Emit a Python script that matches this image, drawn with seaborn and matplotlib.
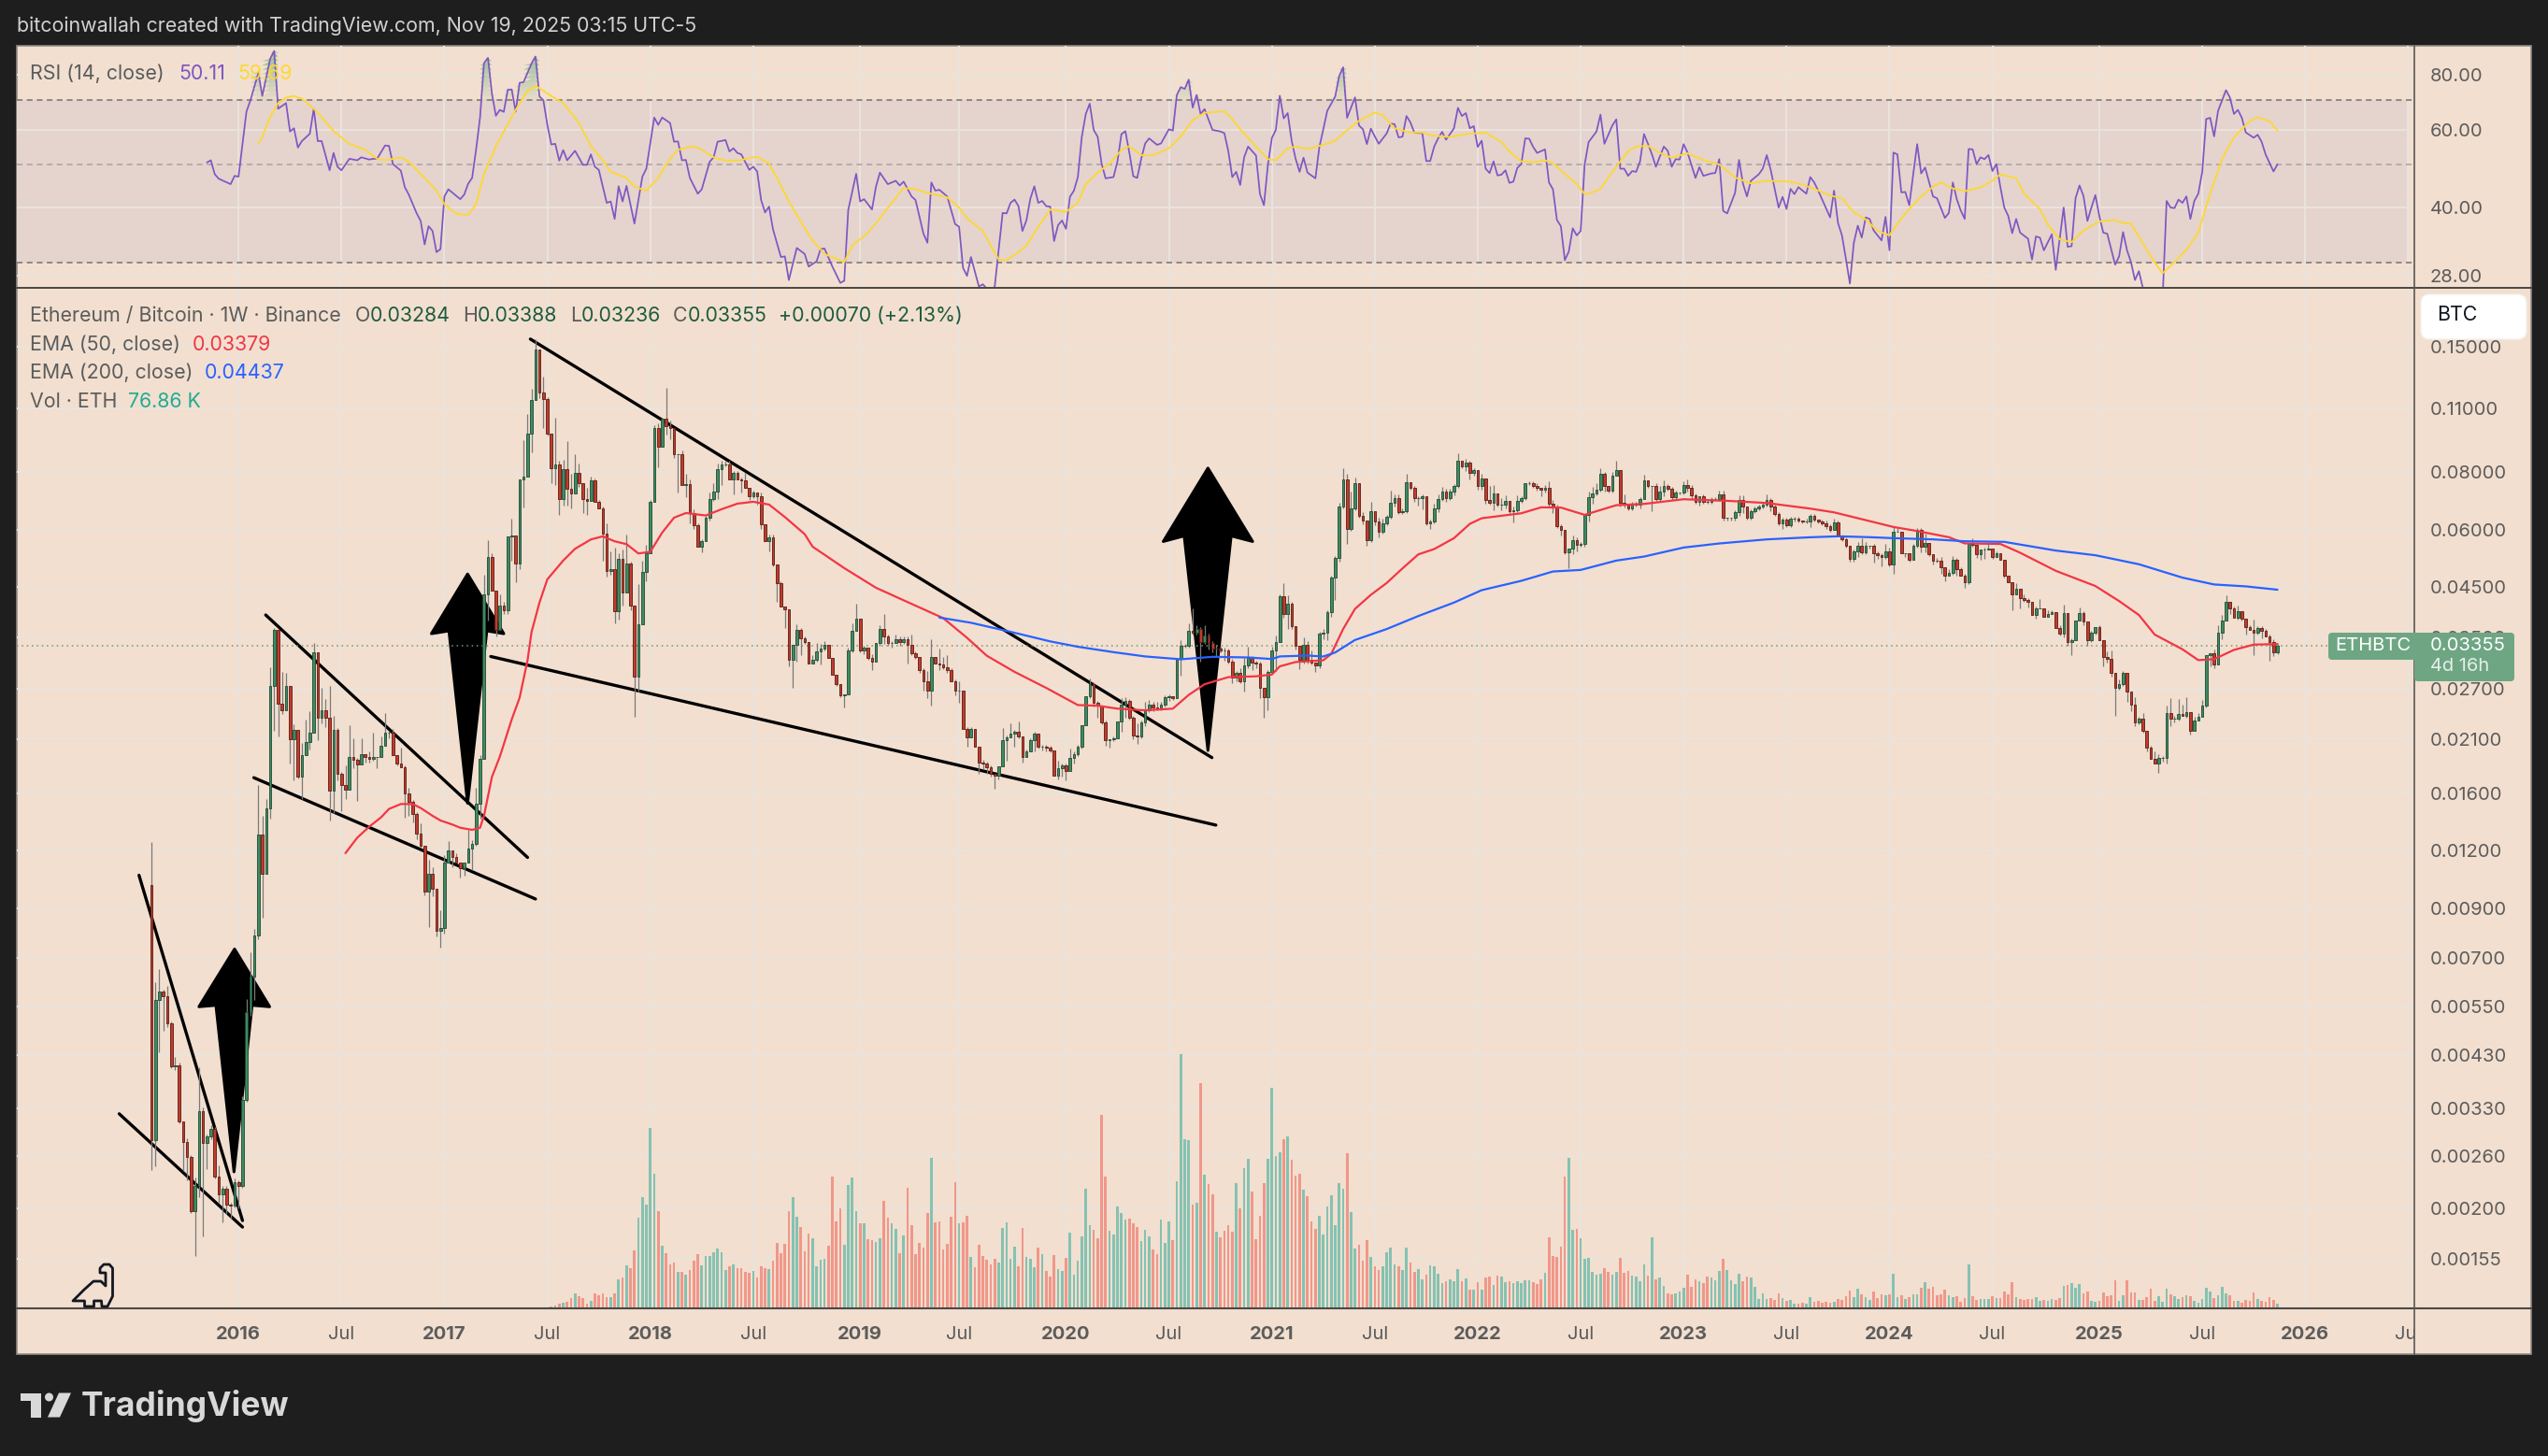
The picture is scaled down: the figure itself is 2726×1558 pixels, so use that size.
import matplotlib
matplotlib.use('Agg')
import matplotlib.dates as mdates
import matplotlib.pyplot as plt
import numpy as np
import pandas as pd
import seaborn as sns
from matplotlib.patches import FancyBboxPatch, Polygon, Circle
from matplotlib.ticker import FixedLocator, FixedFormatter, NullLocator
from matplotlib.transforms import Bbox, TransformedBbox

WIDTH, HEIGHT = 2726, 1558
FIRST_WEEK = '2015-08-03'

# weekly closes in 1e-5 BTC, one row = 10 weeks
first_open = 1010
closes = [
    281, 569, 593, 580, 505, 408, 410, 309, 279, 258,
    197, 224, 325, 278, 286, 297, 234, 214, 221, 204,
    203, 228, 224, 344, 534, 637, 786, 1300, 1070, 1480,
    2740, 3630, 2510, 2430, 2740, 2100, 2200, 1740, 1940, 2070,
    2170, 3240, 2340, 2420, 2340, 1620, 2200, 1760, 1670, 1630,
    1920, 1890, 1850, 1950, 1920, 1900, 1920, 1920, 2030, 2170,
    2170, 1940, 1860, 1820, 1600, 1530, 1440, 1310, 1230, 980,
    1070, 992, 804, 816, 1130, 1200, 1160, 1130, 1100, 1130,
    1210, 1240, 1520, 1900, 4340, 5230, 4420, 3620, 4090, 4000,
    5790, 5820, 5060, 7700, 7820, 9710, 11480, 14800, 11940, 11550,
    9700, 8170, 8320, 6980, 8110, 7360, 7190, 7970, 7560, 6980,
    6920, 7670, 6900, 6670, 5890, 4870, 4930, 3980, 5180, 4380,
    5050, 4090, 2870, 3740, 4850, 5330, 6900, 10000, 9080, 10450,
    10060, 10000, 8750, 8750, 7490, 7550, 6510, 6140, 5510, 5650,
    6350, 7000, 7270, 8100, 8300, 8300, 7720, 7970, 7720, 7670,
    7390, 7090, 7220, 7080, 6150, 5650, 5780, 5030, 4590, 4070,
    4030, 3120, 3370, 3620, 3480, 3410, 3060, 3130, 3260, 3310,
    3360, 3150, 2900, 2770, 2610, 2630, 3280, 3610, 3830, 3280,
    3320, 3150, 3090, 3390, 3640, 3510, 3390, 3400, 3470, 3410,
    3470, 3370, 3230, 3170, 2960, 2810, 2680, 3170, 3060, 3050,
    3010, 2960, 2800, 2670, 2670, 2210, 2120, 2210, 2020, 1870,
    1860, 1820, 1760, 1750, 1830, 2090, 2120, 2160, 2180, 2130,
    1920, 1970, 2090, 2160, 2020, 2020, 2010, 1980, 1750, 1810,
    1840, 1790, 1910, 1950, 2020, 2250, 2600, 2760, 2520, 2480,
    2280, 2090, 2100, 2110, 2290, 2500, 2540, 2340, 2140, 2130,
    2280, 2430, 2500, 2460, 2450, 2500, 2590, 2600, 2580, 3140,
    3350, 3350, 3610, 3580, 3640, 3410, 3530, 3390, 3300, 3300,
    3280, 3270, 3100, 2860, 2930, 2800, 3030, 3150, 3080, 3060,
    2710, 2590, 2940, 3270, 3420, 4290, 3930, 4140, 3690, 3350,
    3130, 3360, 3120, 3080, 3030, 3560, 3580, 3960, 4720, 5210,
    6730, 7700, 6020, 6670, 7560, 6420, 6270, 5700, 6570, 6240,
    5940, 6200, 6400, 6870, 7020, 6540, 6590, 7610, 7390, 7020,
    7020, 7100, 6190, 6240, 6680, 7000, 7270, 7020, 7270, 7460,
    8460, 8220, 8370, 7950, 8070, 7480, 7760, 6970, 6870, 7200,
    6790, 6810, 6930, 6590, 6610, 6930, 7020, 7560, 7560, 7480,
    7380, 7310, 7410, 6820, 6720, 6110, 6000, 5350, 5460, 5700,
    5550, 5570, 6440, 7040, 7200, 7340, 7930, 7480, 7290, 7840,
    8070, 6870, 6820, 6670, 6810, 6810, 6980, 7680, 7480, 7480,
    6980, 7240, 7460, 7350, 7040, 7230, 7230, 7500, 7410, 7120,
    6900, 7100, 6900, 6880, 6980, 7000, 7140, 6350, 6350, 6350,
    6540, 6970, 6720, 6360, 6570, 6670, 6730, 6810, 6950, 6720,
    6480, 6190, 6300, 6130, 6320, 6320, 6280, 6250, 6260, 6410,
    6310, 6240, 6200, 6090, 5980, 6220, 5810, 5710, 5530, 5170,
    5380, 5520, 5350, 5520, 5520, 5330, 5280, 5230, 5370, 5040,
    5920, 5920, 5330, 5330, 5160, 5530, 5980, 5500, 5610, 5310,
    5140, 5130, 4960, 4760, 4820, 5160, 4910, 4750, 4610, 5580,
    5550, 5310, 5430, 5430, 5450, 5220, 5320, 5160, 4770, 4600,
    4330, 4460, 4250, 4210, 4180, 3910, 4040, 4040, 3870, 3920,
    3970, 3670, 3560, 3950, 3420, 3440, 3800, 3950, 3790, 3450,
    3580, 3680, 3450, 3170, 3140, 2930, 2710, 2770, 2930, 2660,
    2490, 2280, 2320, 2190, 2010, 1900, 1860, 1910, 1910, 2390,
    2330, 2330, 2380, 2360, 2400, 2190, 2300, 2350, 2480, 3200,
    3230, 3050, 3570, 3800, 4180, 4040, 3850, 3980, 3840, 3680,
    3630, 3580, 3660, 3610, 3510, 3420, 3250, 3355,
]

# wick length above / below the body, in percent
wick_up = [
    24, 9, 12, 1, 5, 1, 4, 1, 0, 2,
    1, 4, 25, 2, 1, 2, 1, 6, 1, 1,
    1, 2, 1, 2, 7, 13, 3, 28, 10, 5,
    10, 1, 0, 17, 7, 0, 3, 0, 6, 12,
    11, 5, 0, 12, 6, 17, 7, 1, 1, 10,
    17, 10, 1, 8, 0, 3, 13, 0, 5, 10,
    1, 2, 0, 8, 1, 3, 1, 1, 5, 0,
    7, 3, 0, 9, 4, 5, 0, 2, 0, 0,
    10, 2, 8, 2, 10, 9, 2, 0, 6, 2,
    0, 9, 0, 0, 20, 10, 6, 5, 0, 8,
    1, 0, 26, 2, 5, 15, 8, 10, 5, 0,
    6, 2, 1, 1, 1, 5, 9, 11, 3, 5,
    16, 1, 0, 22, 6, 4, 1, 1, 2, 0,
    17, 3, 0, 0, 2, 5, 2, 2, 1, 1,
    1, 3, 4, 3, 2, 2, 2, 1, 1, 1,
    4, 0, 1, 0, 2, 0, 1, 1, 0, 1,
    0, 0, 0, 3, 1, 1, 0, 2, 4, 2,
    2, 0, 0, 0, 0, 0, 1, 4, 8, 0,
    1, 0, 2, 0, 2, 8, 1, 1, 2, 1,
    1, 1, 5, 1, 0, 1, 5, 9, 0, 8,
    4, 6, 1, 1, 5, 0, 1, 1, 0, 0,
    1, 1, 1, 0, 0, 6, 1, 5, 1, 5,
    0, 1, 1, 1, 0, 1, 1, 1, 0, 4,
    1, 1, 5, 1, 1, 0, 0, 3, 1, 1,
    0, 1, 0, 1, 0, 3, 2, 1, 1, 6,
    1, 4, 2, 1, 3, 1, 1, 1, 0, 0,
    3, 1, 4, 12, 2, 1, 5, 1, 1, 2,
    1, 1, 1, 1, 1, 2, 4, 6, 1, 1,
    1, 0, 1, 2, 3, 1, 7, 4, 1, 0,
    0, 4, 2, 5, 0, 1, 2, 1, 1, 1,
    2, 6, 3, 9, 3, 0, 2, 0, 5, 0,
    2, 2, 1, 6, 2, 2, 1, 4, 0, 1,
    1, 1, 0, 1, 2, 2, 2, 1, 1, 1,
    4, 0, 2, 1, 1, 0, 2, 0, 7, 4,
    0, 3, 3, 0, 2, 3, 1, 0, 1, 1,
    1, 0, 1, 3, 2, 1, 1, 0, 0, 2,
    1, 1, 0, 3, 3, 3, 3, 1, 0, 2,
    5, 0, 4, 0, 1, 1, 1, 3, 0, 0,
    1, 3, 3, 1, 1, 1, 0, 2, 3, 1,
    1, 0, 1, 1, 1, 1, 2, 2, 0, 0,
    1, 2, 2, 0, 1, 1, 1, 1, 3, 1,
    1, 1, 1, 1, 1, 1, 1, 0, 1, 1,
    1, 0, 1, 1, 1, 2, 1, 0, 1, 0,
    1, 2, 4, 2, 0, 1, 1, 1, 4, 2,
    3, 2, 0, 0, 0, 1, 1, 1, 5, 0,
    0, 1, 2, 0, 2, 2, 1, 1, 1, 0,
    3, 0, 0, 1, 3, 0, 1, 0, 0, 0,
    0, 3, 0, 2, 1, 0, 1, 5, 0, 2,
    1, 0, 1, 4, 0, 1, 0, 3, 1, 0,
    1, 0, 1, 0, 3, 4, 0, 2, 1, 0,
    0, 4, 1, 3, 0, 1, 4, 2, 1, 4,
    8, 1, 8, 5, 8, 0, 2, 2, 3, 0,
    0, 2, 4, 3, 3, 0, 1, 3, 0, 0,
    1, 5, 1, 1, 1, 1, 1, 1,
]
wick_down = [
    16, 14, 30, 19, 2, 1, 2, 1, 16, 12,
    1, 25, 6, 60, 14, 1, 1, 4, 15, 5,
    7, 1, 12, 1, 1, 2, 12, 2, 25, 0,
    5, 25, 18, 2, 0, 13, 23, 1, 12, 0,
    4, 0, 12, 3, 5, 16, 12, 3, 14, 5,
    0, 4, 20, 0, 3, 2, 1, 6, 0, 0,
    3, 0, 1, 0, 13, 7, 4, 3, 1, 2,
    20, 4, 3, 9, 3, 0, 5, 0, 5, 4,
    0, 11, 1, 8, 0, 14, 0, 3, 0, 2,
    2, 13, 10, 3, 15, 0, 10, 0, 3, 16,
    1, 8, 9, 8, 3, 9, 8, 0, 2, 7,
    7, 0, 0, 0, 15, 3, 2, 6, 4, 7,
    0, 2, 22, 8, 0, 5, 0, 0, 11, 0,
    4, 6, 2, 21, 0, 6, 5, 2, 0, 3,
    0, 1, 1, 4, 8, 1, 0, 8, 0, 6,
    0, 2, 1, 4, 2, 0, 5, 1, 10, 0,
    10, 3, 15, 9, 9, 1, 0, 0, 1, 7,
    1, 0, 0, 1, 1, 6, 0, 1, 0, 1,
    2, 1, 4, 0, 1, 4, 1, 2, 0, 2,
    1, 10, 1, 1, 1, 5, 4, 8, 0, 3,
    1, 1, 0, 2, 6, 0, 5, 0, 0, 6,
    3, 3, 1, 7, 2, 0, 11, 0, 7, 1,
    3, 0, 0, 6, 1, 2, 2, 1, 0, 2,
    4, 5, 0, 3, 1, 1, 0, 1, 2, 6,
    1, 3, 4, 1, 0, 5, 7, 1, 2, 4,
    1, 2, 1, 2, 1, 1, 1, 2, 1, 0,
    9, 1, 1, 1, 1, 10, 1, 3, 2, 4,
    1, 5, 1, 3, 2, 1, 5, 1, 4, 2,
    5, 11, 7, 1, 11, 0, 2, 8, 1, 2,
    5, 2, 2, 1, 3, 1, 3, 4, 2, 12,
    2, 1, 8, 1, 1, 1, 2, 3, 1, 2,
    3, 1, 1, 1, 2, 1, 1, 1, 1, 2,
    4, 6, 1, 3, 1, 2, 1, 2, 1, 2,
    1, 1, 2, 3, 1, 2, 2, 2, 1, 4,
    1, 3, 2, 1, 6, 1, 1, 1, 1, 1,
    1, 3, 1, 2, 3, 1, 3, 1, 8, 3,
    3, 1, 1, 3, 3, 1, 1, 3, 1, 1,
    0, 2, 2, 1, 1, 1, 2, 0, 1, 14,
    1, 1, 2, 1, 1, 1, 1, 1, 2, 2,
    1, 2, 1, 1, 1, 1, 1, 1, 1, 1,
    1, 2, 3, 1, 1, 1, 1, 1, 1, 2,
    1, 1, 3, 1, 1, 1, 1, 1, 1, 3,
    1, 1, 1, 1, 1, 0, 0, 1, 1, 1,
    1, 3, 1, 1, 1, 5, 2, 5, 1, 1,
    5, 0, 0, 2, 1, 0, 1, 3, 3, 1,
    2, 1, 3, 3, 0, 1, 3, 0, 3, 1,
    1, 2, 3, 5, 0, 1, 0, 0, 1, 0,
    8, 0, 5, 1, 3, 0, 2, 0, 0, 0,
    0, 0, 1, 2, 2, 7, 0, 0, 2, 3,
    1, 1, 0, 5, 2, 2, 15, 1, 1, 5,
    3, 2, 1, 1, 2, 0, 0, 5, 2, 3,
    4, 2, 1, 0, 1, 2, 0, 0, 0, 1,
    6, 2, 0, 3, 0, 3, 0, 1, 1, 4,
    0, 12, 1, 4, 0, 10, 2, 1,
]

# weekly volume in thousand ETH
volume_k = [
    12, 12, 12, 12, 12, 12, 12, 12, 12, 12,
    12, 12, 12, 12, 12, 12, 12, 12, 12, 12,
    12, 12, 12, 12, 12, 12, 12, 12, 12, 12,
    12, 12, 12, 12, 12, 12, 12, 12, 12, 12,
    12, 12, 12, 12, 12, 12, 12, 12, 12, 12,
    12, 12, 12, 12, 12, 12, 12, 12, 12, 12,
    12, 12, 12, 12, 12, 12, 12, 12, 12, 12,
    12, 12, 12, 12, 12, 12, 12, 12, 12, 12,
    12, 12, 12, 12, 12, 12, 12, 12, 12, 12,
    12, 12, 12, 12, 12, 12, 12, 12, 12, 15,
    15, 30, 50, 80, 90, 110, 160, 245, 200, 170,
    70, 125, 245, 215, 245, 185, 185, 245, 460, 490,
    695, 650, 935, 1460, 1790, 1670, 2900, 2165, 1565, 1010,
    890, 710, 740, 590, 590, 545, 620, 770, 875, 695,
    845, 845, 905, 965, 905, 620, 680, 710, 650, 650,
    590, 575, 605, 500, 680, 650, 635, 770, 1055, 890,
    1040, 1565, 1790, 1475, 1310, 920, 1205, 1130, 680, 785,
    800, 1010, 2120, 1400, 1610, 1025, 1985, 2105, 1565, 1370,
    1370, 1115, 1100, 1070, 1130, 1730, 1460, 1370, 1280, 890,
    1175, 1940, 1340, 875, 1055, 980, 1535, 2420, 1385, 1400,
    950, 1040, 1475, 2030, 1370, 1385, 1490, 830, 665, 1025,
    845, 785, 710, 800, 740, 1295, 1385, 800, 995, 680,
    1295, 830, 800, 665, 980, 875, 605, 515, 860, 635,
    605, 815, 1220, 545, 770, 1160, 1925, 1340, 1265, 1130,
    3110, 2120, 1250, 1190, 1640, 1535, 1430, 1445, 1370, 1310,
    1085, 1265, 1160, 950, 875, 1430, 1055, 1400, 1100, 2045,
    4085, 2720, 2705, 1670, 1700, 3620, 2150, 2000, 1835, 1235,
    1145, 1250, 1340, 1235, 2015, 1610, 2255, 2405, 1880, 1115,
    1490, 2015, 2405, 3545, 2450, 2510, 2720, 2765, 2390, 2135,
    2165, 1910, 1805, 1400, 1280, 1490, 1190, 1640, 1820, 1340,
    2015, 1925, 2495, 1550, 965, 1025, 770, 1100, 830, 680,
    620, 680, 905, 980, 710, 680, 620, 980, 740, 590,
    635, 470, 545, 695, 680, 560, 410, 440, 470, 440,
    635, 440, 485, 305, 305, 425, 305, 500, 515, 380,
    520, 514, 425, 440, 410, 440, 410, 455, 455, 425,
    395, 470, 575, 1145, 845, 830, 995, 2120, 2420, 1265,
    1280, 1130, 800, 815, 590, 545, 560, 650, 590, 545,
    590, 815, 575, 605, 530, 515, 440, 710, 530, 1145,
    470, 500, 365, 245, 230, 245, 275, 335, 545, 350,
    470, 440, 410, 515, 500, 455, 605, 800, 620, 455,
    395, 560, 440, 515, 500, 350, 155, 245, 155, 170,
    140, 245, 170, 125, 140, 80, 80, 95, 80, 185,
    110, 125, 95, 110, 95, 110, 155, 140, 200, 290,
    185, 320, 230, 185, 140, 275, 170, 230, 215, 230,
    560, 185, 215, 155, 185, 230, 230, 335, 425, 320,
    350, 215, 230, 305, 215, 185, 200, 110, 170, 710,
    200, 140, 155, 155, 155, 200, 170, 170, 275, 230,
    425, 185, 155, 140, 155, 155, 185, 125, 140, 125,
    155, 140, 170, 365, 380, 410, 335, 395, 245, 275,
    125, 110, 125, 260, 200, 215, 455, 125, 215, 455,
    260, 260, 140, 140, 185, 320, 125, 200, 110, 320,
    230, 200, 155, 185, 215, 200, 125, 95, 155, 335,
    275, 170, 215, 350, 245, 215, 125, 125, 95, 140,
    125, 260, 155, 125, 110, 185, 140, 75,
]

# (week number, value) vertices
rsi_points = [
    (14, 50.6), (15, 51.2), (16, 47.6), (17, 46.5), (20, 45.2), (21, 47.2), (22, 47), (24, 66), (25, 70), (27, 80.7),
    (28, 71.6), (30, 87), (31, 90.6), (32, 67), (34, 69), (35, 59.5), (36, 60.5), (37, 54.7), (38, 56.6), (40, 58.8),
    (41, 67), (42, 56.6), (43, 56.6), (45, 48.6), (46, 53.2), (47, 49.5), (48, 48.6), (50, 51.6), (52, 51.2), (53, 52),
    (55, 51.4), (56, 51.6), (57, 51.6), (59, 55.3), (60, 55.2), (61, 50.2), (63, 48.5), (64, 44.5), (65, 42.8), (67, 38.8),
    (68, 37.3), (69, 33), (70, 36.3), (71, 35.4), (72, 31.7), (73, 32.2), (74, 42.4), (75, 44), (78, 41.8), (79, 42.8),
    (80, 45.3), (81, 46.7), (82, 54.1), (83, 64), (84, 85), (85, 87.4), (86, 72.5), (87, 64.6), (88, 66.6), (89, 65.9),
    (90, 74), (91, 74.1), (92, 66), (93, 76.7), (94, 77), (96, 84.8), (97, 88), (98, 71.5), (99, 70), (100, 61.6),
    (101, 55.6), (102, 55.8), (103, 51.1), (104, 54), (105, 51.2), (107, 53.8), (109, 50), (110, 50), (111, 52.8), (112, 49.5),
    (113, 48.7), (115, 41), (116, 41.3), (117, 37.7), (118, 44.7), (119, 41.3), (120, 44.8), (122, 36.8), (124, 47), (125, 49),
    (127, 64), (128, 61.6), (129, 64), (131, 62.2), (132, 56.4), (133, 56.5), (134, 51.2), (135, 51.3), (136, 46.7), (138, 43),
    (139, 44), (141, 50.8), (142, 52), (143, 56.4), (145, 56.9), (146, 53.6), (147, 54.5), (148, 53.2), (149, 52.8), (151, 48.7),
    (152, 49.5), (153, 48.3), (154, 41.6), (155, 39), (156, 40.2), (157, 35.7), (159, 30.9), (160, 31), (161, 27.4), (163, 32.4),
    (165, 31.4), (166, 29.4), (168, 30.2), (169, 32.2), (170, 32.3), (172, 29.4), (174, 27), (175, 27.3), (176, 39.5), (178, 47.7),
    (179, 41.3), (180, 41.8), (182, 39.6), (183, 44.6), (184, 48), (186, 45.2), (188, 46), (189, 44.9), (190, 45.8), (192, 42.4),
    (193, 41.6), (195, 34.9), (196, 33.3), (197, 45.6), (198, 43.7), (199, 43.9), (201, 42.4), (203, 36.7), (204, 36.2), (205, 29.2),
    (206, 28), (207, 30.9), (209, 26.5), (210, 26.8), (212, 25.6), (213, 26.5), (215, 38.9), (216, 38.8), (217, 41), (218, 41.7),
    (219, 40.3), (220, 35.4), (221, 37.4), (222, 41.9), (223, 44.7), (224, 41), (225, 41.4), (226, 40.3), (227, 40.2), (228, 33.6),
    (229, 36.5), (230, 37.4), (231, 35.8), (232, 42.3), (233, 43.7), (234, 46.9), (235, 57.9), (236, 65.2), (237, 68.8), (238, 60),
    (239, 57.9), (240, 50.3), (241, 46.6), (243, 46.9), (244, 50.9), (245, 58.7), (246, 59.6), (247, 53.3), (248, 47.1), (249, 46.7),
    (250, 51.6), (251, 55.9), (252, 57.4), (254, 55.5), (255, 55.9), (257, 60.2), (258, 59.8), (259, 72), (260, 75), (261, 74.3),
    (262, 78), (263, 67.4), (264, 72), (265, 65.2), (266, 66.9), (268, 60), (270, 59.5), (271, 59), (272, 53.7), (273, 46.9),
    (274, 48.2), (275, 45), (276, 52), (277, 55), (279, 52.5), (280, 42.9), (281, 40.5), (282, 50), (283, 57.5), (284, 60),
    (285, 71.7), (286, 63.7), (287, 65.5), (288, 56.7), (289, 51.6), (290, 48.2), (291, 51.9), (292, 48), (294, 46.6), (295, 54.9),
    (296, 60.2), (297, 66.3), (299, 71.4), (300, 79.4), (301, 83.2), (302, 63.9), (304, 71.1), (305, 61.4), (306, 60.2), (307, 55.7),
    (308, 60.4), (309, 58), (310, 55.8), (312, 58.9), (313, 62), (314, 61.8), (315, 57.7), (316, 57.9), (317, 64.5), (318, 62.4),
    (319, 59.1), (321, 59), (322, 51), (323, 51), (324, 55), (325, 57.4), (326, 59.4), (327, 57), (329, 60.5), (330, 67.3),
    (331, 64.5), (332, 65.5), (333, 60.5), (334, 61.2), (335, 54.9), (336, 56.7), (337, 49), (338, 47.9), (339, 50.9), (340, 47.3),
    (341, 47.5), (342, 48.6), (343, 45.5), (344, 45.8), (345, 49.2), (346, 50.2), (347, 57.4), (348, 57.3), (349, 54.9), (350, 53.2),
    (352, 54.2), (353, 45.6), (354, 44), (355, 37.5), (356, 36.3), (357, 30.4), (358, 31.8), (359, 35.9), (360, 34.6), (361, 35.4),
    (362, 50), (363, 56.3), (365, 59.5), (366, 65), (367, 55.8), (369, 61.4), (370, 63.4), (371, 49), (372, 49), (373, 47.2),
    (374, 48.4), (375, 48.2), (376, 50.9), (377, 58.7), (378, 55.8), (379, 52.8), (380, 49.5), (382, 55), (383, 53.8), (384, 49.5),
    (385, 51.5), (386, 51.4), (387, 55.7), (388, 53.3), (390, 46.7), (391, 49.4), (392, 47.2), (394, 47.8), (395, 47.9), (396, 51.5),
    (397, 39.3), (398, 38.8), (400, 43.2), (401, 51.3), (402, 45.3), (403, 42.4), (404, 46), (406, 47.6), (407, 49), (408, 52.6),
    (409, 48.7), (411, 40), (412, 42.3), (413, 39.7), (414, 44.1), (415, 42.9), (416, 44.5), (418, 43), (419, 46.9), (420, 45.6),
    (421, 43.7), (424, 38), (425, 43.7), (426, 36.9), (427, 34.6), (428, 30.6), (429, 26.9), (430, 33.3), (431, 36.4), (432, 34.2),
    (433, 38), (434, 37.7), (435, 35.5), (437, 33.7), (438, 38.1), (439, 32), (440, 53.3), (441, 52.8), (442, 43.3), (443, 43.4),
    (444, 40.5), (445, 47.6), (446, 55.7), (447, 47.8), (448, 49.3), (450, 42.4), (451, 42), (453, 37.9), (454, 38.9), (455, 45.6),
    (456, 41.8), (457, 39.4), (458, 37.7), (459, 54.3), (460, 54.2), (461, 50.2), (462, 52), (463, 51.5), (464, 52.6), (465, 48.4),
    (466, 50.2), (467, 44.6), (468, 40), (469, 38.3), (470, 35), (471, 37.7), (472, 35.1), (474, 34), (475, 30.5), (476, 34.4),
    (477, 34.2), (478, 32), (480, 34.8), (481, 28.9), (483, 40), (484, 32.6), (485, 32.7), (486, 42), (487, 44.9), (488, 42.5),
    (489, 37.3), (490, 40), (491, 42.7), (492, 38.3), (493, 35.1), (494, 34.9), (496, 29.7), (497, 31), (498, 35.2), (499, 32),
    (500, 30.1), (501, 27.4), (502, 28.7), (503, 26.3), (504, 25), (508, 25), (509, 41.4), (510, 40), (511, 39.9), (512, 41.7),
    (513, 41), (514, 42.4), (515, 37.7), (516, 41.4), (517, 43), (518, 48.2), (519, 63.5), (520, 63.9), (521, 58), (522, 66.3),
    (524, 73.8), (525, 71), (526, 65.2), (527, 66.6), (528, 63.9), (529, 59.2), (531, 57.6), (532, 58.5), (533, 56.4), (534, 52.8),
    (536, 48.3), (537, 50.11),
]
rsi_ma_points = [
    (27, 55.8), (28, 57.8), (30, 64.2), (32, 69), (34, 71), (36, 71.6), (38, 70.6), (41, 67), (43, 64.2), (46, 59.6),
    (50, 55.8), (54, 54.1), (57, 51.6), (59, 51.2), (63, 52), (65, 50.8), (69, 46.7), (72, 43.7), (74, 40.7), (77, 38.7),
    (80, 38.5), (82, 40.7), (84, 47.6), (87, 55.1), (89, 59.5), (92, 66.6), (95, 73.6), (97, 75.5), (101, 71.6), (104, 69),
    (108, 62.2), (111, 55.1), (114, 51.2), (116, 48.2), (120, 46.7), (122, 44.6), (125, 43.7), (128, 46.7), (131, 51.6), (133, 54.1),
    (137, 55.1), (139, 54.1), (142, 52), (145, 51.1), (148, 51.1), (153, 52.2), (156, 50.3), (158, 46.7), (161, 41.3), (164, 37.2),
    (167, 33.7), (170, 31.4), (175, 30.1), (177, 32.8), (181, 35.1), (184, 37.8), (187, 41), (190, 44.3), (193, 44), (196, 43.2),
    (201, 42.2), (204, 40), (206, 37.8), (210, 35.4), (212, 32.8), (214, 30.5), (216, 30.4), (219, 31.7), (221, 32.8), (223, 35.1),
    (227, 39.6), (231, 39.1), (234, 41), (236, 45.2), (239, 48), (242, 50.3), (245, 54), (247, 55.1), (250, 52.6), (253, 52.5),
    (257, 54.5), (260, 58), (263, 63.2), (266, 65.6), (271, 66.1), (273, 63.5), (275, 60.2), (279, 55), (282, 51.5), (284, 51.2),
    (287, 54.5), (289, 55), (292, 54.3), (296, 55.5), (299, 56.7), (302, 59.9), (305, 62.9), (309, 65.7), (311, 64.8), (314, 60.5),
    (318, 59.2), (321, 59.2), (323, 58.3), (328, 57.8), (332, 58.7), (337, 59.2), (341, 56.3), (343, 53.6), (346, 50.9), (349, 50.7),
    (352, 51.2), (354, 50.4), (357, 47.7), (360, 45.3), (362, 42.9), (363, 43), (366, 44.1), (368, 46.8), (371, 50.9), (373, 53.7),
    (375, 55), (378, 55.2), (381, 53.2), (384, 51.9), (388, 53.1), (392, 51.3), (396, 50.1), (400, 46.8), (404, 45.4), (408, 46),
    (414, 45.8), (417, 45.1), (420, 44.1), (424, 42.6), (427, 42), (430, 39), (433, 37.6), (436, 35.4), (439, 34.6), (442, 37.8),
    (444, 39.7), (447, 42.4), (450, 44.6), (452, 45.6), (455, 44.2), (458, 43.6), (462, 44.4), (465, 46), (467, 47.6), (471, 46.6),
    (473, 43), (477, 39.7), (479, 36.6), (482, 33.9), (485, 33.4), (488, 35.5), (492, 37.2), (496, 37.5), (498, 36.9), (500, 36.8),
    (503, 33.2), (506, 30), (508, 28.4), (511, 30.1), (514, 32.1), (517, 35.1), (520, 43), (523, 51.5), (526, 57.7), (530, 62.8),
    (532, 64.1), (535, 62.8), (537, 59.69),
]
ema50_points = [
    (49, 0.01185), (52, 0.01281), (55, 0.01353), (58, 0.01418), (60, 0.01479), (63, 0.01516), (66, 0.01516), (68, 0.01486),
    (71, 0.01429), (73, 0.01396), (76, 0.01368), (78, 0.01346), (81, 0.01332), (83, 0.01346), (84, 0.01429), (86, 0.01736),
    (88, 0.01922), (91, 0.02316), (93, 0.02583), (95, 0.03116), (96, 0.03586), (98, 0.04158), (100, 0.04674), (104, 0.05134),
    (107, 0.05447), (111, 0.05708), (114, 0.05798), (117, 0.05655), (120, 0.05575), (123, 0.05321), (126, 0.05364), (129, 0.05907),
    (132, 0.06366), (135, 0.06516), (140, 0.06436), (144, 0.06641), (148, 0.06829), (152, 0.06894), (156, 0.06798), (160, 0.06386),
    (165, 0.05862), (167, 0.05505), (175, 0.04944), (183, 0.04481), (192, 0.04133), (200, 0.03848), (206, 0.03487), (211, 0.03187),
    (218, 0.0294), (226, 0.02713), (234, 0.02489), (239, 0.02481), (244, 0.02445), (251, 0.02424), (258, 0.02445), (262, 0.02619),
    (266, 0.02763), (272, 0.02863), (279, 0.02875), (283, 0.029), (285, 0.03022), (289, 0.03088), (296, 0.03116), (298, 0.03216),
    (301, 0.03643), (304, 0.04031), (308, 0.04324), (312, 0.04589), (316, 0.04937), (320, 0.05297), (324, 0.05439), (329, 0.05745),
    (333, 0.06171), (336, 0.06348), (346, 0.06508), (351, 0.06704), (356, 0.06697), (362, 0.06457), (370, 0.06777), (377, 0.0682),
    (387, 0.06982), (398, 0.06927), (408, 0.06852), (419, 0.06662), (425, 0.06538), (433, 0.06288), (440, 0.06076), (446, 0.05955),
    (454, 0.05772), (458, 0.05596), (467, 0.05581), (472, 0.0534), (481, 0.04878), (491, 0.0452), (497, 0.04192), (502, 0.03909),
    (506, 0.03543), (513, 0.03292), (517, 0.03118), (521, 0.03132), (526, 0.03282), (531, 0.0337), (537, 0.03379),
]
ema200_points = [
    (199, 0.0386), (207, 0.0376), (217, 0.03593), (227, 0.03425), (234, 0.03334), (243, 0.03245), (251, 0.03176), (260, 0.03131),
    (268, 0.0317), (277, 0.0316), (283, 0.03135), (285, 0.03176), (292, 0.0319), (296, 0.03175), (299, 0.0324), (304, 0.03449),
    (312, 0.03643), (320, 0.03889), (329, 0.0416), (336, 0.04427), (346, 0.04639), (354, 0.04861), (361, 0.04899), (370, 0.05134),
    (377, 0.05239), (387, 0.05481), (396, 0.05594), (408, 0.0571), (419, 0.05771), (426, 0.05799), (434, 0.05773), (440, 0.05745),
    (450, 0.05710), (458, 0.05657), (468, 0.0564), (481, 0.05399), (491, 0.05274), (502, 0.05041), (513, 0.04714), (521, 0.04555),
    (529, 0.04512), (537, 0.04437),
]

# hand drawn lines on the chart: days after FIRST_WEEK and prices at both ends
trend_days = [(-22, 161), (-57, 161), (202, 665), (181, 679), (670, 1875), (600, 1882)]
trend_prices = [(0.01061, 0.00188), (0.00321, 0.00182), (0.0391, 0.0116), (0.0173, 0.00942),
                (0.1558, 0.01913), (0.03175, 0.01364)]

# big up arrows: tip, left barb, left shoulder, bottom, right shoulder, right barb
arrow_days = [
    (147, 84, 114, 146, 178, 209),
    (559, 495, 526, 559, 593, 623),
    (1868, 1789, 1826, 1868, 1909, 1947),
]
arrow_prices = [
    (0.00733, 0.00549, 0.00553, 0.0024, 0.00553, 0.00549),
    (0.048, 0.0356, 0.0361, 0.01522, 0.0361, 0.0356),
    (0.0816, 0.0565, 0.0581, 0.01983, 0.0581, 0.0565),
]

price_ticks = [0.15, 0.11, 0.08, 0.06, 0.045, 0.035, 0.027, 0.021, 0.016, 0.012, 0.009, 0.007,
               0.0055, 0.0043, 0.0033, 0.0026, 0.002, 0.00155]
rsi_ticks = [80, 60, 40, 28]
time_ticks = ['2016-01-04', '2016-07-04', '2017-01-02', '2017-07-03', '2018-01-01', '2018-07-02',
              '2019-01-07', '2019-07-01', '2020-01-06', '2020-07-06', '2021-01-04', '2021-07-05',
              '2022-01-03', '2022-07-04', '2023-01-02', '2023-07-03', '2024-01-01', '2024-07-01',
              '2025-01-06', '2025-07-07', '2026-01-05', '2026-07-06']
time_labels = ['2016', 'Jul', '2017', 'Jul', '2018', 'Jul', '2019', 'Jul', '2020', 'Jul', '2021', 'Jul',
               '2022', 'Jul', '2023', 'Jul', '2024', 'Jul', '2025', 'Jul', '2026', 'Jul']

PANEL = '#f2dfcf'
DARK = '#1e1e1e'
GRID = '#e9e3dc'
TEXT = '#5c5c5c'
UP_FACE, UP_EDGE = '#3f8a62', '#1c4a32'
DOWN_FACE, DOWN_EDGE = '#c23b2c', '#5a1a12'
VOL_UP, VOL_DOWN = '#85c2b2', '#f0978a'


def add_px_axes(fig, left, top, right, bottom, zorder):
    return fig.add_axes([left / WIDTH, 1 - bottom / HEIGHT, (right - left) / WIDTH, (bottom - top) / HEIGHT],
                        zorder=zorder)


def week_x(weeks):
    return mdates.date2num(pd.Timestamp(FIRST_WEEK)) + 7 * np.asarray(weeks, dtype=float)


def draw_points(ax, points, color, width, zorder):
    weeks, values = zip(*points)
    sns.lineplot(x=week_x(weeks), y=values, ax=ax, color=color, linewidth=width, estimator=None,
                 sort=False, legend=False, zorder=zorder)


sns.set_theme(style='white')
plt.rcParams['font.family'] = ['Inter', 'DejaVu Sans']
plt.rcParams['axes.unicode_minus'] = False

closes_btc = np.array(closes) * 1e-5
opens_btc = np.r_[first_open * 1e-5, closes_btc[:-1]]
candles = pd.DataFrame({
    'x': week_x(np.arange(len(closes))),
    'open': opens_btc,
    'close': closes_btc,
    'wick_up': wick_up,
    'wick_down': wick_down,
    'volume': volume_k,
})
candles['top'] = candles[['open', 'close']].max(axis=1)
candles['bottom'] = candles[['open', 'close']].min(axis=1)
candles['high'] = candles['top'] * (1 + candles['wick_up'] / 100)
candles['low'] = candles['bottom'] / (1 + candles['wick_down'] / 100)
candles['rising'] = candles['close'] >= candles['open']

fig = plt.figure(figsize=(WIDTH / 100, HEIGHT / 100), dpi=100, facecolor=DARK)

back = add_px_axes(fig, 0, 0, WIDTH, HEIGHT, 0)
back.set_xlim(0, WIDTH)
back.set_ylim(HEIGHT, 0)
back.axis('off')
back.add_patch(plt.Rectangle((18, 49), 2690, 1400, facecolor=PANEL, edgecolor='#8f8a85', linewidth=1.2))

x_left = mdates.date2num(pd.Timestamp('2014-12-08'))
x_right = mdates.date2num(pd.Timestamp('2026-07-17'))
tick_x = mdates.date2num(pd.to_datetime(time_ticks))

# RSI panel
ax_rsi = add_px_axes(fig, 18, 49, 2583, 307, 2)
ax_rsi.patch.set_visible(False)
ax_rsi.set_yscale('log')
ax_rsi.set_xlim(x_left, x_right)
ax_rsi.set_ylim(26.44, 93.06)
band_end = (tick_x[-1] - x_left) / (x_right - x_left)
ax_rsi.axhspan(30, 70, xmin=0, xmax=band_end, facecolor='#e5d3ce', edgecolor='none', zorder=0.5)
for level, tone in [(70, '#77716d'), (50, '#a8a29e'), (30, '#77716d')]:
    ax_rsi.axhline(level, color=tone, linewidth=1.1, dashes=(4, 3), zorder=1)
rsi_weeks, rsi_values = zip(*rsi_points)
rsi_x, rsi_y = week_x(rsi_weeks), np.array(rsi_values)
# overbought fill fades out towards the 70 line
fade_levels = np.geomspace(70, 92, 13)
for k, (low_edge, high_edge) in enumerate(zip(fade_levels[:-1], fade_levels[1:])):
    ax_rsi.fill_between(rsi_x, np.clip(rsi_y, low_edge, high_edge), low_edge, where=rsi_y > low_edge,
                        interpolate=True, color='#86b98c', alpha=0.12 + 0.07 * k, linewidth=0, zorder=1.5)
draw_points(ax_rsi, rsi_points, '#7e57c2', 1.25, 3)
draw_points(ax_rsi, rsi_ma_points, '#fdd835', 1.35, 4)
ax_rsi.yaxis.tick_right()
ax_rsi.yaxis.set_major_locator(FixedLocator(rsi_ticks))
ax_rsi.yaxis.set_major_formatter(FixedFormatter([f'{v:.2f}' for v in rsi_ticks]))
ax_rsi.yaxis.set_minor_locator(NullLocator())
ax_rsi.set_xticks(tick_x)
ax_rsi.set_xticklabels([])

# grid of the price panel sits under the volume bars
ax_grid = add_px_axes(fig, 18, 308, 2583, 1400, 0.5)
ax_grid.patch.set_visible(False)
ax_grid.set_yscale('log')
ax_grid.set_xlim(x_left, x_right)
ax_grid.set_ylim(0.001211, 0.2014)
ax_grid.yaxis.set_major_locator(FixedLocator(price_ticks))
ax_grid.yaxis.set_minor_locator(NullLocator())
ax_grid.set_xticks(tick_x)
ax_grid.grid(True, axis='both', which='major', color=GRID, linewidth=1.5)
ax_grid.tick_params(length=0, labelbottom=False, labelleft=False)
for spine in ax_grid.spines.values():
    spine.set_visible(False)

ax_vol = add_px_axes(fig, 18, 308, 2583, 1400, 1)
ax_vol.patch.set_visible(False)
ax_vol.set_xlim(x_left, x_right)
ax_vol.set_ylim(0, 16380)
ax_vol.bar(candles['x'], candles['volume'], width=4.4, linewidth=0,
           color=np.where(candles['rising'], VOL_UP, VOL_DOWN))
ax_vol.set_xticks([])
ax_vol.set_yticks([])

ax = add_px_axes(fig, 18, 308, 2583, 1400, 3)
ax.patch.set_visible(False)
ax.set_yscale('log')
ax.set_xlim(x_left, x_right)
ax.set_ylim(0.001211, 0.2014)

x_first = mdates.date2num(pd.Timestamp(FIRST_WEEK))
for days, prices in zip(trend_days, trend_prices):
    ax.plot(x_first + np.array(days), prices, color='black', linewidth=2.4, solid_capstyle='round', zorder=2)
for days, prices in zip(arrow_days, arrow_prices):
    ax.add_patch(Polygon(np.column_stack([x_first + np.array(days), prices]), closed=True, facecolor='black',
                         edgecolor='black', linewidth=2.2, joinstyle='round', zorder=2))

ax.axhline(closes_btc[-1], color='#6b9a7a', linewidth=1.1, linestyle=(0, (1, 2.5)), zorder=2.5)
ax.vlines(candles['x'], candles['low'], candles['high'], color='#7a7a7a', linewidth=0.9, zorder=3)
ax.bar(candles['x'], candles['top'] - candles['bottom'], bottom=candles['bottom'], width=4.4, linewidth=0.6,
       color=np.where(candles['rising'], UP_FACE, DOWN_FACE),
       edgecolor=np.where(candles['rising'], UP_EDGE, DOWN_EDGE), zorder=3.1)
draw_points(ax, ema50_points, '#f23645', 1.6, 4)
draw_points(ax, ema200_points, '#2962ff', 1.6, 4)

ax.yaxis.tick_right()
ax.yaxis.set_major_locator(FixedLocator(price_ticks))
ax.yaxis.set_major_formatter(FixedFormatter([f'{v:.5f}' for v in price_ticks]))
ax.yaxis.set_minor_locator(NullLocator())
ax.set_xticks(tick_x)
ax.set_xticklabels(time_labels)

label_clip = TransformedBbox(Bbox([[0, 0], [2583 / WIDTH, 1]]), fig.transFigure)
for tick_label, text in zip(ax.get_xticklabels(), time_labels):
    tick_label.set_fontweight('bold' if text != 'Jul' else 'normal')
    tick_label.set_clip_box(label_clip)
    tick_label.set_clip_on(True)

ax_rsi.grid(True, axis='both', which='major', color=GRID, linewidth=1.5, zorder=0)
ax_rsi.set_axisbelow(True)
ax.grid(False)
for panel in (ax_rsi, ax):
    for spine in panel.spines.values():
        spine.set_visible(False)
    panel.tick_params(axis='y', which='both', length=0, pad=12, labelsize=14.5, labelcolor=TEXT)
    panel.tick_params(axis='x', which='both', length=0, pad=14, labelsize=14.5, labelcolor=TEXT)
for spine in ax_vol.spines.values():
    spine.set_visible(False)

# everything on top, placed in image pixels
top = add_px_axes(fig, 0, 0, WIDTH, HEIGHT, 5)
top.set_xlim(0, WIDTH)
top.set_ylim(HEIGHT, 0)
top.axis('off')
top.patch.set_visible(False)

top.plot([18, 2708], [307.5, 307.5], color='#3c3a38', linewidth=1.3)
top.plot([18, 2708], [1400, 1400], color='#4a4846', linewidth=1.5)
top.plot([2583, 2583], [49, 1449], color='#5a5856', linewidth=1.2)


def label(x, y, text, color=TEXT, size=15.4, weight='normal', zorder=8):
    top.text(x, y, text, color=color, fontsize=size, fontweight=weight, va='center', ha='left', zorder=zorder)


label(18, 28, 'bitcoinwallah created with TradingView.com, Nov 19, 2025 03:15 UTC-5', '#d1d1d1')
label(32, 79, 'RSI (14, close)')
label(191, 79, '50.11', '#7e57c2')
label(254, 79, '59.69', '#fdd835')

label(32, 338, 'Ethereum / Bitcoin · 1W · Binance')
for x, head, value in [(380, 'O', '0.03284'), (495, 'H', '0.03388'), (610, 'L', '0.03236'), (720, 'C', '0.03355')]:
    label(x, 338, head)
    label(x + (16 if head in 'OHC' else 12), 338, value, '#1f5c40')
label(833, 338, '+0.00070 (+2.13%)', '#1f5c40')
label(32, 369, 'EMA (50, close)')
label(206, 369, '0.03379', '#f23645')
label(32, 399, 'EMA (200, close)')
label(219, 399, '0.04437', '#2962ff')
label(32, 430, 'Vol · ETH')
label(137, 430, '76.86 K', '#22ab94')

top.add_patch(FancyBboxPatch((2590, 315), 113, 48, boxstyle='round,pad=0,rounding_size=9', facecolor='white',
                             edgecolor='#f4efe9', linewidth=1, zorder=6))
label(2607, 337, 'BTC', '#131722', 15.4)

top.add_patch(FancyBboxPatch((2491, 677), 100, 29, boxstyle='round,pad=0,rounding_size=4', facecolor='#6ea684',
                             edgecolor='none', zorder=6))
top.add_patch(FancyBboxPatch((2583, 677), 107, 52, boxstyle='round,pad=0,rounding_size=4', facecolor='#6ea684',
                             edgecolor='none', zorder=6))
label(2498, 691, 'ETHBTC', 'white', 14.5)
label(2600, 691, '0.03355', 'white', 14.5)
label(2600, 713, '4d 16h', '#e4efe8', 14.5)

# dino mark next to the volume baseline
dino = [(78, 1392), (90, 1380), (100, 1371), (108, 1371), (113, 1376), (113, 1362), (107, 1362), (107, 1357),
        (111, 1353), (117, 1353), (120.5, 1357), (120.5, 1387), (115, 1398), (109, 1398), (108.5, 1392),
        (100.5, 1392), (100.5, 1398), (90.5, 1398), (90.5, 1392)]
top.add_patch(Polygon(dino, closed=True, facecolor='none', edgecolor='#131722', linewidth=2.0, joinstyle='round',
                      zorder=7))

# TradingView logo
logo = '#d8d8d8'
top.add_patch(Polygon([(21.5, 1490.5), (44, 1490.5), (44, 1516.5), (33, 1516.5), (33, 1498.5), (21.5, 1498.5)],
                      closed=True, facecolor=logo, edgecolor='none'))
top.add_patch(Circle((52.5, 1495), 4.5, facecolor=logo, edgecolor='none'))
top.add_patch(Polygon([(63, 1490.5), (76, 1490.5), (64, 1516.5), (51, 1516.5)], closed=True, facecolor=logo,
                      edgecolor='none'))
label(87, 1504, 'TradingView', logo, 25.5, 'bold')

fig.savefig('out.png', dpi=100, facecolor=DARK)
